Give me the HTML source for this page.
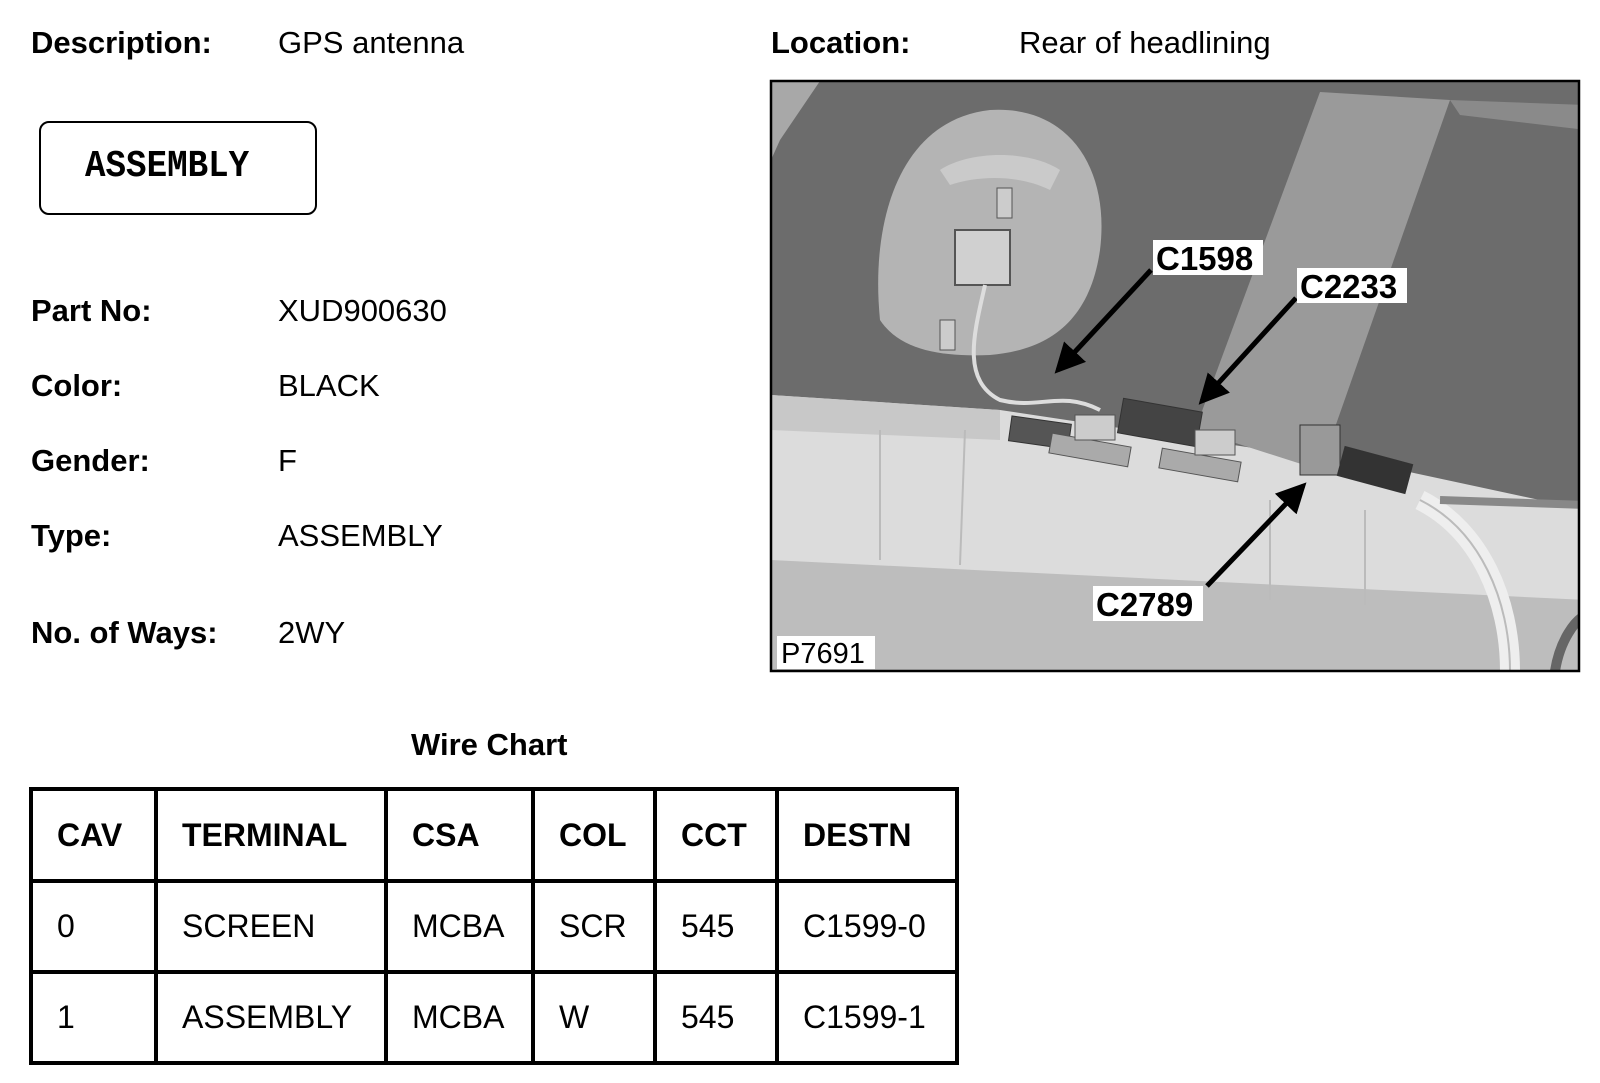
<!DOCTYPE html>
<html><head><meta charset="utf-8"><style>
html,body{margin:0;padding:0;background:#fff;}
body{width:1600px;height:1083px;position:relative;overflow:hidden;font-family:"Liberation Sans",Arial,sans-serif;color:#000;}
.t{position:absolute;font-size:31px;line-height:1;white-space:nowrap;}
.b{font-weight:bold;}
table{position:absolute;left:29px;top:787px;border-collapse:collapse;}
td{border:4px solid #000;font-size:32px;padding:0 0 0 24px;box-sizing:border-box;vertical-align:middle;}
</style></head><body>
<div class="t b" style="left:31px;top:27px">Description:</div>
<div class="t" style="left:278px;top:27px">GPS antenna</div>
<div class="t b" style="left:771px;top:27px">Location:</div>
<div class="t" style="left:1019px;top:27px">Rear of headlining</div>

<div style="position:absolute;left:39px;top:121px;width:274px;height:90px;border:2px solid #000;border-radius:10px;"></div>
<div class="t" style="left:85px;top:148px;font-family:'Liberation Mono',monospace;font-weight:bold;font-size:38px;transform:scaleX(0.9);transform-origin:left;">ASSEMBLY</div>

<div class="t b" style="left:31px;top:295px">Part No:</div>
<div class="t" style="left:278px;top:295px">XUD900630</div>
<div class="t b" style="left:31px;top:370px">Color:</div>
<div class="t" style="left:278px;top:370px">BLACK</div>
<div class="t b" style="left:31px;top:445px">Gender:</div>
<div class="t" style="left:278px;top:445px">F</div>
<div class="t b" style="left:31px;top:520px">Type:</div>
<div class="t" style="left:278px;top:520px">ASSEMBLY</div>
<div class="t b" style="left:31px;top:617px">No. of Ways:</div>
<div class="t" style="left:278px;top:617px">2WY</div>

<div class="t b" style="left:411px;top:729px">Wire Chart</div>

<svg style="position:absolute;left:0;top:0" width="1600" height="1083">
<defs>
<marker id="ah" markerWidth="6" markerHeight="6" refX="5" refY="3" orient="auto"><path d="M0,0 L6,3 L0,6 z" fill="#000"/></marker>
<clipPath id="cp"><rect x="771" y="81" width="808" height="590"/></clipPath>
</defs>
<g clip-path="url(#cp)">
<rect x="771" y="81" width="808" height="590" fill="#dcdcdc"/>
<polygon points="771,81 1586,81 1586,510 1400,470 1000,410 771,395" fill="#6c6c6c"/>
<polygon points="771,81 820,81 780,140 771,160" fill="#a8a8a8"/>
<polygon points="1320,92 1450,100 1320,470 1195,430" fill="#9a9a9a"/>
<polygon points="1450,100 1586,105 1586,130 1460,115" fill="#8a8a8a"/>
<path d="M880,320 C870,220 900,120 990,110 C1070,105 1110,170 1100,250 C1090,320 1050,350 990,355 C940,357 900,350 880,320 z" fill="#b4b4b4"/>
<path d="M940,170 C970,150 1030,150 1060,170 L1050,190 C1020,175 980,175 950,185 z" fill="#cacaca"/>
<rect x="955" y="230" width="55" height="55" fill="#d0d0d0" stroke="#555" stroke-width="2"/>
<rect x="997" y="188" width="15" height="30" fill="#ccc" stroke="#555"/>
<rect x="940" y="320" width="15" height="30" fill="#ccc" stroke="#555"/>
<path d="M985,285 C975,330 960,380 1000,400 C1040,410 1060,390 1100,410" stroke="#ddd" stroke-width="4" fill="none"/>
<polygon points="771,395 1000,410 1000,440 771,430" fill="#c8c8c8"/>
<polygon points="771,560 1586,600 1586,671 771,671" fill="#bdbdbd"/>
<line x1="880" y1="430" x2="880" y2="560" stroke="#bbb" stroke-width="2"/>
<line x1="965" y1="430" x2="960" y2="565" stroke="#bbb" stroke-width="2"/>
<line x1="1270" y1="500" x2="1270" y2="600" stroke="#bbb" stroke-width="2"/>
<line x1="1365" y1="510" x2="1365" y2="605" stroke="#bbb" stroke-width="2"/>
<path d="M1420,500 C1480,530 1510,600 1510,671" stroke="#eee" stroke-width="20" fill="none"/>
<path d="M1420,500 C1480,530 1510,600 1510,671" stroke="#888" stroke-width="2" fill="none" opacity=".5"/>
<path d="M1555,671 C1560,640 1575,620 1586,615" stroke="#666" stroke-width="10" fill="none"/>
<path d="M1440,500 L1586,505" stroke="#888" stroke-width="8"/>
<g fill="#555" stroke="#333">
<rect x="1010" y="420" width="60" height="25" transform="rotate(8 1040 432)"/>
<rect x="1120" y="405" width="80" height="35" transform="rotate(10 1160 422)" fill="#444"/>
<rect x="1300" y="425" width="40" height="50" fill="#999"/>
<rect x="1340" y="455" width="70" height="30" transform="rotate(15 1375 470)" fill="#333"/>
</g>
<g fill="#aaa" stroke="#555">
<rect x="1050" y="440" width="80" height="20" transform="rotate(10 1090 450)"/>
<rect x="1160" y="455" width="80" height="20" transform="rotate(10 1200 465)"/>
<rect x="1075" y="415" width="40" height="25" fill="#ccc"/>
<rect x="1195" y="430" width="40" height="25" fill="#ccc"/>
</g>
</g>
<rect x="771" y="81" width="808" height="590" fill="none" stroke="#000" stroke-width="2.5"/>
<g stroke="#000" stroke-width="5" marker-end="url(#ah)">
<line x1="1151" y1="270" x2="1058" y2="370"/>
<line x1="1296" y1="298" x2="1202" y2="401"/>
<line x1="1207" y1="586" x2="1303" y2="486"/>
</g>
<g font-family="Liberation Sans,Arial,sans-serif" font-weight="bold" font-size="33">
<rect x="1153" y="240" width="110" height="35" fill="#fff"/><text x="1156" y="270">C1598</text>
<rect x="1297" y="268" width="110" height="35" fill="#fff"/><text x="1300" y="298">C2233</text>
<rect x="1093" y="586" width="110" height="35" fill="#fff"/><text x="1096" y="616">C2789</text>
</g>
<rect x="777" y="636" width="98" height="33" fill="#fff"/>
<text x="781" y="663" font-family="Liberation Sans,Arial,sans-serif" font-size="29">P7691</text>
</svg>

<table>
<tr style="font-weight:bold"><td style="width:125px;height:92px">CAV</td><td style="width:230px">TERMINAL</td><td style="width:147px">CSA</td><td style="width:122px">COL</td><td style="width:122px">CCT</td><td style="width:180px">DESTN</td></tr>
<tr><td style="height:91px">0</td><td>SCREEN</td><td>MCBA</td><td>SCR</td><td>545</td><td>C1599-0</td></tr>
<tr><td style="height:91px">1</td><td>ASSEMBLY</td><td>MCBA</td><td>W</td><td>545</td><td>C1599-1</td></tr>
</table>
</body></html>
